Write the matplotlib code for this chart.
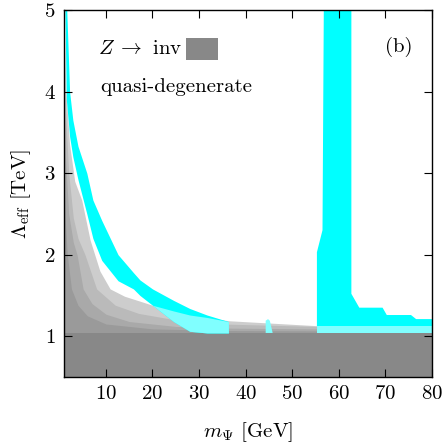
import numpy as np
import matplotlib
matplotlib.use("Agg")
import matplotlib.pyplot as plt
import matplotlib.patches as mpatches

plt.rcParams['font.family'] = 'cmr10'
plt.rcParams['mathtext.fontset'] = 'cm'
plt.rcParams['axes.unicode_minus'] = False
plt.rcParams['axes.formatter.use_mathtext'] = True

# Z -> invisible excluded region (flat)
z_inv_top = 1.04

# quasi-degenerate grey layers (top edge, lightest first)
g1_m = [1.0, 1.4, 2.2, 3.3, 4.8, 6.6, 8.7, 10.9, 14, 17.3, 20, 24.5, 28, 31.7, 36.3, 55, 80]
g1_lam = [5.0, 4.0, 3.35, 2.9, 2.67, 2.18, 1.8, 1.58, 1.49, 1.43, 1.38, 1.31, 1.26, 1.23, 1.19, 1.13, 1.11]
g2_m = [1.0, 1.3, 2.0, 3.0, 4.0, 5.5, 8.0, 12, 17, 25, 35, 55, 80]
g2_lam = [4.6, 3.8, 3.0, 2.45, 2.2, 2.0, 1.58, 1.38, 1.28, 1.2, 1.15, 1.12, 1.1]
g3_m = [1.0, 1.3, 2.0, 3.0, 3.8, 5.1, 7, 10, 15, 25, 35, 55, 80]
g3_lam = [3.9, 3.2, 2.5, 2.15, 2.0, 1.58, 1.4, 1.27, 1.18, 1.12, 1.1, 1.09, 1.08]
g4_m = [1.0, 1.3, 1.7, 2.6, 4, 6, 10, 20, 35, 80]
g4_lam = [3.0, 2.4, 2.0, 1.58, 1.38, 1.25, 1.15, 1.09, 1.07, 1.06]
grey_layers = [(g1_m, g1_lam, '#cdcdcd'), (g2_m, g2_lam, '#bababa'),
               (g3_m, g3_lam, '#a9a9a9'), (g4_m, g4_lam, '#9a9a9a')]

# cyan band (relic density) below the resonance
band_m = [1.2, 1.5, 2.2, 2.9, 4.0, 5.9, 7.2, 9.1, 12.6, 15.9, 17.3, 20.0, 24.5, 28.0, 31.7, 36.3]
band_hi = [5.6, 5.15, 4.0, 3.65, 3.33, 3.0, 2.67, 2.42, 2.0, 1.78, 1.69, 1.58, 1.44, 1.34, 1.26, 1.18]
band_lo = [5.0, 3.9, 3.45, 3.2, 2.92, 2.5, 2.2, 1.93, 1.68, 1.58, 1.5, 1.38, 1.18, 1.06, 1.04, 1.04]

# part of the band lying inside the grey region
pale_m = [17.3, 20.0, 24.5, 28.0, 31.7, 36.3]
pale_hi = [1.43, 1.38, 1.31, 1.26, 1.23, 1.18]
pale_lo = [1.43, 1.38, 1.18, 1.06, 1.04, 1.04]

# small island near m_Z / 2
blob_m = [44.3, 44.3, 44.8, 45.2, 45.8]
blob_lam = [1.04, 1.19, 1.21, 1.19, 1.04]

# resonance region (outline)
res_m = [55.3, 55.3, 56.5, 56.8, 62.7, 62.7, 64.4, 69.4, 70.3, 75.5, 76.6, 80.0, 80.0]
res_lam = [1.12, 2.03, 2.3, 5.2, 5.2, 1.52, 1.35, 1.35, 1.26, 1.26, 1.21, 1.21, 1.12]
res_pale_m = [55.3, 80.0]
res_pale_hi = [1.12, 1.12]

fig = plt.figure(figsize=(4.46, 4.44), dpi=100)
ax = fig.add_axes([0.1435, 0.1509, 0.825, 0.8266])

for gm, gl, col in grey_layers:
    ax.fill_between(gm, 0.4, gl, color=col, lw=0)
ax.axhspan(0.4, z_inv_top, color='#888888', lw=0)

ax.fill_between(band_m, band_lo, band_hi, color='#00ffff', lw=0)
ax.fill_between(pale_m, pale_lo, pale_hi, color='#80ffff', lw=0)
ax.fill(blob_m, blob_lam, color='#80ffff', lw=0)
ax.fill(res_m, res_lam, color='#00ffff', lw=0)
ax.fill_between(res_pale_m, z_inv_top, res_pale_hi, color='#80ffff', lw=0)

ax.set_xlim(1, 80)
ax.set_ylim(0.5, 5)
ax.set_xticks([10, 20, 30, 40, 50, 60, 70, 80])
ax.set_yticks([1, 2, 3, 4, 5])
ax.tick_params(direction='in', top=True, right=True, length=6, width=0.8,
               labelsize=15, pad=6)
for s in ax.spines.values():
    s.set_linewidth(1.0)
    s.set_zorder(5)

ax.set_xlabel(r'$m_\Psi$ [GeV]', fontsize=15, labelpad=12)
ax.set_ylabel(r'$\Lambda_{\rm eff}$ [TeV]', fontsize=15, labelpad=8)

# legend-like annotations
ax.text(0.092, 0.893, r'$Z\;\rightarrow$ inv', transform=ax.transAxes, fontsize=15,
        va='center', ha='left')
ax.add_patch(mpatches.Rectangle((0.332, 0.864), 0.087, 0.06, transform=ax.transAxes,
                                facecolor='#888888', edgecolor='none'))
ax.text(0.098, 0.79, 'quasi-degenerate', transform=ax.transAxes, fontsize=15,
        va='center', ha='left')
ax.text(0.91, 0.899, '(b)', transform=ax.transAxes, fontsize=15,
        va='center', ha='center')

fig.savefig('out.png', dpi=100)
